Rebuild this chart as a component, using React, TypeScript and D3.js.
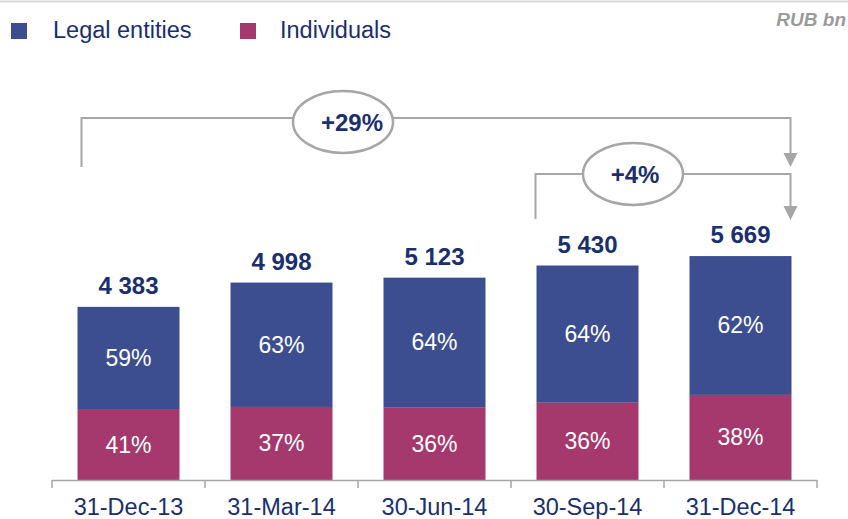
import React from "react";
import * as d3 from "d3";

const categories = ["31-Dec-13", "31-Mar-14", "30-Jun-14", "30-Sep-14", "31-Dec-14"];
const totals = [4383, 4998, 5123, 5430, 5669];
const totalLabels = ["4 383", "4 998", "5 123", "5 430", "5 669"];
const legalShare = [59, 63, 64, 64, 62];
const individualShare = [41, 37, 36, 36, 38];
const seriesNames = ["Legal entities", "Individuals"];
const growth = [
  { from: 0, to: 4, label: "+29%" },
  { from: 3, to: 4, label: "+4%" },
];

const W = 848;
const H = 519;
const BLUE = "#3D4E90";
const MAGENTA = "#A5396E";
const NAVY = "#1B2E6E";
const GRAY = "#A6A6A6";
const FONT = "'Liberation Sans', Arial, Helvetica, sans-serif";

export default function App() {
  const x = d3
    .scaleBand<string>()
    .domain(categories)
    .range([52, 817])
    .paddingInner(1 / 3)
    .paddingOuter(1 / 6);
  const y = d3.scaleLinear().domain([0, 6000]).range([480, 243]);
  const bw = x.bandwidth();
  const step = x.step();
  const base = y(0);

  const ticks = d3.range(categories.length + 1).map((i) => 52 + i * step);

  // annotation layout
  const ann = [
    { leftX: x(categories[growth[0].from])! + 4, lineY: 118, leftBottom: 167, tipY: 167, cx: 343, cy: 122, tx: 352 },
    { leftX: x(categories[growth[1].from])! - 1, lineY: 174, leftBottom: 219, tipY: 220, cx: 633, cy: 174, tx: 635 },
  ];
  const rightX = x(categories[growth[0].to])! + bw - 1;

  return (
    <svg
      width={W}
      height={H}
      style={{ position: "absolute", left: 0, top: 0, background: "#fff" }}
      fontFamily={FONT}
    >
      <rect x={0} y={0} width={W} height={H} fill="#fff" />
      <line x1={0} x2={W} y1={1.5} y2={1.5} stroke="#D9D9D9" strokeWidth={2} />

      {/* legend */}
      <rect x={11} y={23} width={16} height={16} fill={BLUE} />
      <text x={53} y={37.5} fontSize={23.5} fill={NAVY}>{seriesNames[0]}</text>
      <rect x={240} y={23} width={16} height={16} fill={MAGENTA} />
      <text x={280} y={37.5} fontSize={23.5} fill={NAVY}>{seriesNames[1]}</text>
      <text x={846} y={26} fontSize={19} fontWeight="bold" fontStyle="italic" fill="#9B9B9B" textAnchor="end">
        RUB bn
      </text>

      {/* bars */}
      {categories.map((c, i) => {
        const x0 = x(c)!;
        const legal = (totals[i] * legalShare[i]) / 100;
        const indiv = (totals[i] * individualShare[i]) / 100;
        const yIndTop = y(indiv);
        const yTop = y(indiv + legal);
        return (
          <g key={c}>
            <rect x={x0} y={yTop} width={bw} height={yIndTop - yTop} fill={BLUE} />
            <rect x={x0} y={yIndTop} width={bw} height={base - yIndTop} fill={MAGENTA} />
            <text
              x={x0 + bw / 2}
              y={(yTop + yIndTop) / 2 + 8}
              fontSize={23}
              fill="#fff"
              textAnchor="middle"
            >
              {legalShare[i]}%
            </text>
            <text
              x={x0 + bw / 2}
              y={(yIndTop + base) / 2 + 8}
              fontSize={23}
              fill="#fff"
              textAnchor="middle"
            >
              {individualShare[i]}%
            </text>
            <text
              x={x0 + bw / 2}
              y={yTop - 13}
              fontSize={24}
              fontWeight="bold"
              fill={NAVY}
              textAnchor="middle"
            >
              {totalLabels[i]}
            </text>
            <text x={x0 + bw / 2} y={515} fontSize={23.5} fill={NAVY} textAnchor="middle">
              {c}
            </text>
          </g>
        );
      })}

      {/* axis */}
      <line x1={ticks[0]} x2={ticks[ticks.length - 1]} y1={480.5} y2={480.5} stroke={GRAY} strokeWidth={1.5} />
      {ticks.map((t, i) => (
        <line key={i} x1={t} x2={t} y1={480} y2={488} stroke={GRAY} strokeWidth={1.5} />
      ))}

      {/* growth annotations */}
      {growth.map((g, i) => {
        const a = ann[i];
        return (
          <g key={g.label}>
            <path
              d={`M${a.leftX},${a.leftBottom} V${a.lineY} H${rightX} V${a.tipY - 13}`}
              fill="none"
              stroke={GRAY}
              strokeWidth={2}
            />
            <path
              d={`M${rightX - 7},${a.tipY - 14} L${rightX + 7},${a.tipY - 14} L${rightX},${a.tipY} Z`}
              fill={GRAY}
            />
            <ellipse cx={a.cx} cy={a.cy} rx={50} ry={31} fill="#fff" stroke={GRAY} strokeWidth={2.5} />
            <text x={a.tx} y={a.cy + 9} fontSize={24} fontWeight="bold" fill={NAVY} textAnchor="middle">
              {g.label}
            </text>
          </g>
        );
      })}
    </svg>
  );
}
